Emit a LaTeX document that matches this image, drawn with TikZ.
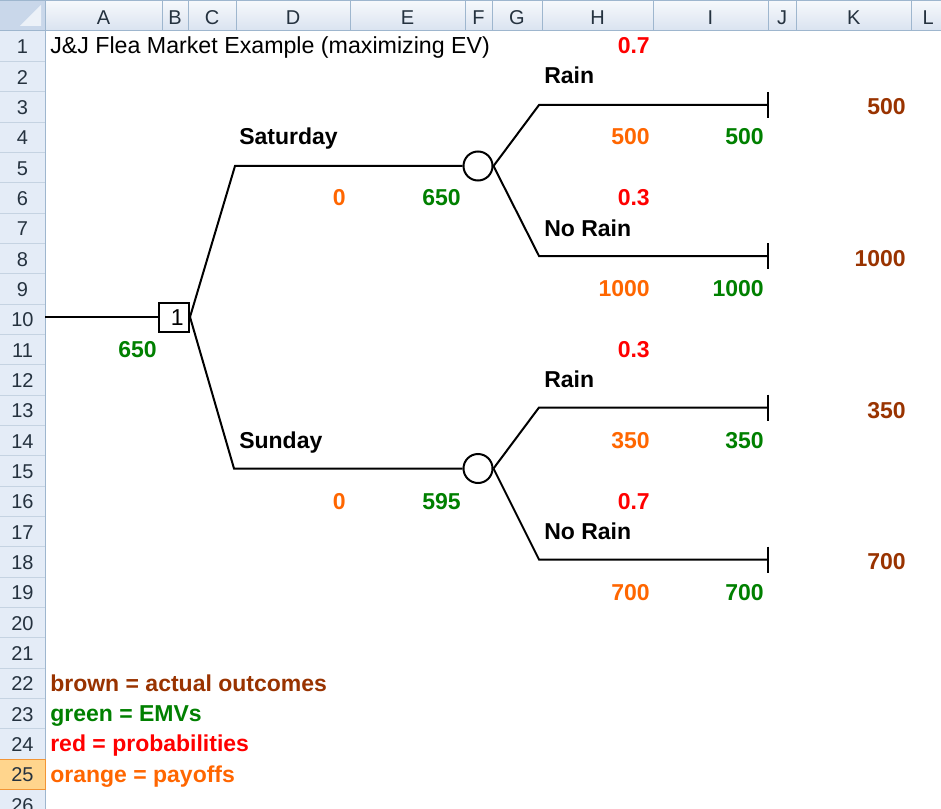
\documentclass[tikz,border=0pt]{standalone}
\usepackage{fontspec}
\setmainfont{Liberation Sans}
\usetikzlibrary{positioning}
\definecolor{brownv}{HTML}{993300}
\definecolor{greenv}{HTML}{008000}
\definecolor{redv}{HTML}{FF0000}
\definecolor{orangev}{HTML}{FF6600}
\definecolor{hdrfill}{HTML}{E4ECF7}
\definecolor{hdrtop}{HTML}{F7F9FC}
\definecolor{hdrbot}{HTML}{DAE3F0}
\definecolor{hdrline}{HTML}{9EB6CE}
\definecolor{hdrtext}{HTML}{25323F}
\definecolor{selfill}{HTML}{FFD58D}
\definecolor{selline}{HTML}{F29536}
\definecolor{cornfill}{HTML}{C9D7EA}
\definecolor{corntri}{HTML}{ECF1F8}
\tikzset{
  hdr/.style={font=\fontsize{15}{15}\selectfont, text=hdrtext, inner sep=0, anchor=base},
  lbl/.style={font=\fontsize{17.25}{17.25}\bfseries\selectfont, inner sep=0},
  num/.style={lbl, anchor=base east},
  txt/.style={lbl, anchor=base west},
  branch/.style={line width=1.5pt, black},
}
\begin{document}
\begin{tikzpicture}[x=0.75pt,y=-0.75pt]
\useasboundingbox (0,0) rectangle (941,809);
\fill[white] (0,0) rectangle (941,809);
%headers
\shade[top color=hdrtop, bottom color=hdrbot] (45,0) rectangle (941,30.5);
\fill[hdrfill] (0,31) rectangle (45,809);
\fill[selfill] (0,759) rectangle (45,789.3);
\fill[cornfill] (0,0) rectangle (45,30.5);
\fill[corntri] (41,5)--(41,26)--(20,26)--cycle;
\draw[hdrline] (0,30.5)--(941,30.5);
\draw[hdrline] (45,0)--(45,809);
\draw[hdrline] (0,0.5)--(941,0.5);
\foreach \l/\a/\b in {A/45/162,B/162/188,C/188/236,D/236/350,E/350/465,F/465/492,
  G/492/542,H/542/653,I/653/768,J/768/796,K/796/911.5,L/911.5/945}{
  \draw[hdrline] (\b,0)--(\b,30.5);
  \node[hdr] (col\l) at ({(\a+\b)/2},25) {\l};
}
\foreach \r in {1,...,26}{
  \draw[hdrline!60] (0,{31+\r*30.33})--(45,{31+\r*30.33});
  \node[hdr] (row\r) at (22.5,{31+\r*30.33-7.5}) {\r};
}
\draw[selline] (0,759)--(45,759)--(45,789.3)--(0,789.3);
%tree
\node[draw, line width=1.5pt, minimum width=22.5pt, minimum height=21.75pt, inner sep=0] (dec) at (174,317) {};
\node[font=\fontsize{17.25}{17.25}\selectfont, inner sep=0, anchor=base east] (decv) at (184,325) {1};
\node[draw, circle, line width=1.5pt, minimum size=21.75pt, inner sep=0] (satc) at (478,166) {};
\node[draw, circle, line width=1.5pt, minimum size=21.75pt, inner sep=0] (sunc) at (478,468.5) {};
\coordinate (start) at (45,317);
\coordinate (sat) at (235,166);
\coordinate (sun) at (234,468.5);
\coordinate (satR) at (539,105);
\coordinate (satRe) at (768,105);
\coordinate (satN) at (539,256);
\coordinate (satNe) at (768,256);
\coordinate (sunR) at (539,407.5);
\coordinate (sunRe) at (768,407.5);
\coordinate (sunN) at (539,559.5);
\coordinate (sunNe) at (768,559.5);
\draw[branch] (start)--(dec.west);
\draw[branch] (dec.east)--(sat)--(satc.west);
\draw[branch] (dec.east)--(sun)--(sunc.west);
\draw[branch] (satc.east)--(satR)--(satRe);
\draw[branch] (satc.east)--(satN)--(satNe);
\draw[branch] (sunc.east)--(sunR)--(sunRe);
\draw[branch] (sunc.east)--(sunN)--(sunNe);
\foreach \e in {satRe,satNe,sunRe,sunNe}
  \draw[branch] ([yshift=9.75pt]\e)--([yshift=-9.75pt]\e);
%texts
\node[font=\fontsize{17.4}{17.4}\selectfont, inner sep=0, anchor=base west] (title) at (50,54) {J\&J Flea Market Example (maximizing EV)};
\node[num, text=redv] (pSatR) at (650,54) {0.7};
\node[txt] (lSatR) at (544,84) {Rain};
\node[num, text=brownv] (oSatR) at (906,114.5) {500};
\node[txt] (lSat) at (239,145) {Saturday};
\node[num, text=orangev] (vSatR) at (650,145) {500};
\node[num, text=greenv] (eSatR) at (764,145) {500};
\node[num, text=orangev] (vSat) at (346,205.5) {0};
\node[num, text=greenv] (eSat) at (461,205.5) {650};
\node[num, text=redv] (pSatN) at (650,205.5) {0.3};
\node[txt] (lSatN) at (544,236) {No Rain};
\node[num, text=brownv] (oSatN) at (906,266) {1000};
\node[num, text=orangev] (vSatN) at (650,296.5) {1000};
\node[num, text=greenv] (eSatN) at (764,296.5) {1000};
\node[num, text=greenv] (eDec) at (157,357) {650};
\node[num, text=redv] (pSunR) at (650,357) {0.3};
\node[txt] (lSunR) at (544,387.5) {Rain};
\node[num, text=brownv] (oSunR) at (906,418) {350};
\node[txt] (lSun) at (239,448) {Sunday};
\node[num, text=orangev] (vSunR) at (650,448) {350};
\node[num, text=greenv] (eSunR) at (764,448) {350};
\node[num, text=orangev] (vSun) at (346,509) {0};
\node[num, text=greenv] (eSun) at (461,509) {595};
\node[num, text=redv] (pSunN) at (650,509) {0.7};
\node[txt] (lSunN) at (544,539) {No Rain};
\node[num, text=brownv] (oSunN) at (906,569.5) {700};
\node[num, text=orangev] (vSunN) at (650,600) {700};
\node[num, text=greenv] (eSunN) at (764,600) {700};
%legend
\node[txt, text=brownv] (keyBrown) at (50,691) {brown = actual outcomes};
\node[txt, text=greenv] (keyGreen) at (50,721) {green = EMVs};
\node[txt, text=redv] (keyRed) at (50,751.5) {red = probabilities};
\node[txt, text=orangev] (keyOrange) at (50,782) {orange = payoffs};
\end{tikzpicture}
\end{document}
